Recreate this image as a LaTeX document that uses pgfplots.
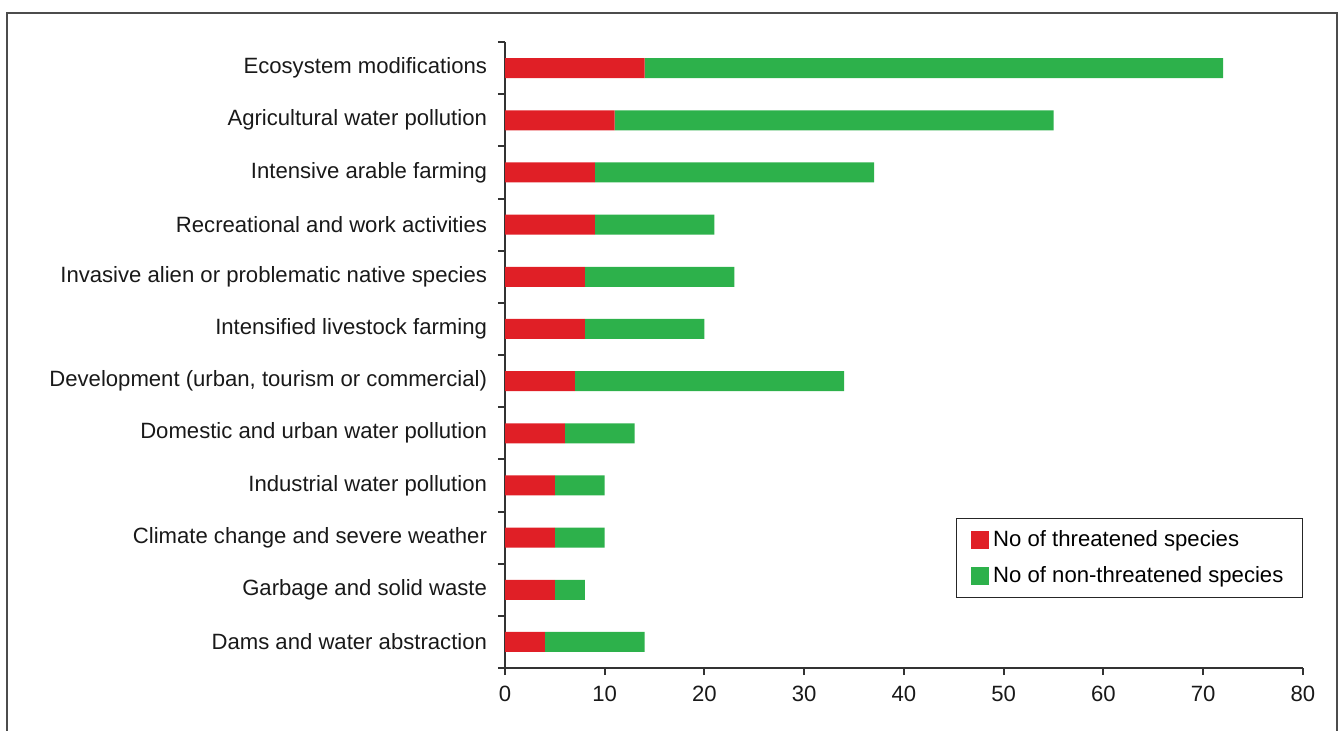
\documentclass[border=0pt]{standalone}
\usepackage{pgfplots}
\pgfplotsset{compat=1.18}
\usepackage{pgfplotstable}
\usepackage{fontspec}
\setmainfont{Liberation Sans}
\definecolor{barred}{HTML}{E01F26}
\definecolor{bargreen}{HTML}{2DB14B}
\definecolor{axgray}{HTML}{333333}

% threat, no. threatened, no. non-threatened (idx 0 = top row)
\pgfplotstableread[col sep=comma]{
idx,thr,nonthr
0,14,58
1,11,44
2,9,28
3,9,12
4,8,15
5,8,12
6,7,27
7,6,7
8,5,5
9,5,5
10,5,3
11,4,10
}\threats

\begin{document}
\begin{tikzpicture}
\useasboundingbox (0,0) rectangle (670.5bp,365.5bp);
\draw[line width=1.2bp, color=black!70] (3.5bp,-2bp) -- (3.5bp,359bp) -- (668.5bp,359bp) -- (668.5bp,-2bp);
\begin{axis}[
  at={(252.5bp,31.5bp)}, anchor=south west,
  scale only axis,
  width=399bp, height=313bp,
  xbar stacked,
  bar width=10bp,
  xmin=0, xmax=80,
  ymin=-0.5, ymax=11.5,
  y dir=reverse,
  enlargelimits=false,
  axis x line*=bottom,
  axis y line*=left,
  axis line style={-, line width=1bp, color=axgray},
  xtick={0,10,...,80},
  ytick={-0.5,0.5,...,11.5},
  yticklabels={},
  extra y ticks={0,...,11},
  extra y tick labels={Ecosystem modifications,
    Agricultural water pollution,
    Intensive arable farming,
    Recreational and work activities,
    Invasive alien or problematic native species,
    Intensified livestock farming,
    {Development (urban, tourism or commercial)},
    Domestic and urban water pollution,
    Industrial water pollution,
    Climate change and severe weather,
    Garbage and solid waste,
    Dams and water abstraction},
  extra y tick style={major tick length=0pt, tick style={draw=none}},
  tick style={draw=axgray, line width=1bp},
  major tick length=3.5bp,
  tick align=outside,
  tick pos=left,
  ticklabel style={font=\fontsize{11.1}{13}\selectfont, text=black!90},
  yticklabel style={xshift=-5.5bp},
  xticklabel style={yshift=-2bp},
  /pgf/number format/assume math mode=true,
  legend style={at={(1,0.2396)}, anchor=north east,
    draw=black!85, line width=0.6bp,
    font=\fontsize{11.1}{13}\selectfont,
    inner xsep=7.5bp, inner ysep=4bp,
    row sep=4.5bp,
    cells={anchor=west}},
  legend image code/.code={\fill[#1] (0bp,-4.5bp) rectangle (9bp,4.5bp);},
]
\addplot[fill=barred, draw=none] table[x=thr, y=idx] {\threats};
\addlegendentry{No of threatened species}
\addplot[fill=bargreen, draw=none] table[x=nonthr, y=idx] {\threats};
\addlegendentry{No of non-threatened species}
\end{axis}
\end{tikzpicture}
\end{document}
